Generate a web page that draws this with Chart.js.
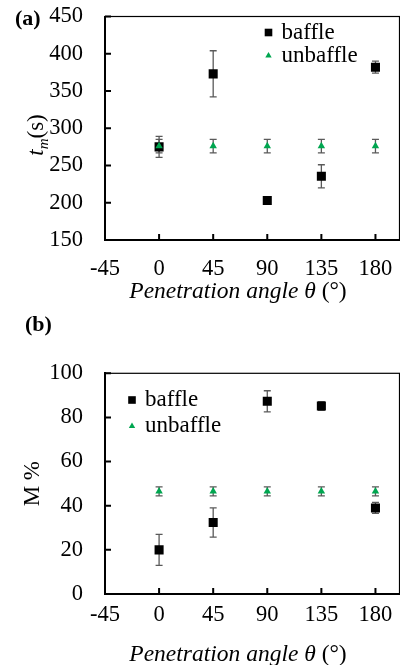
<!DOCTYPE html>
<html lang="en">
<head>
  <meta charset="UTF-8">
  <title>Penetration angle</title>
  <script src="https://cdn.jsdelivr.net/npm/chart.js"></script>
  <style>
    body {
      margin: 0;
      width: 400px;
      height: 665px;
      overflow: hidden;
      position: relative;
      background: #fff;
    }
    canvas { position: absolute; left: 0; }
    #chartA { top: 0; }
    #chartB { top: 310px; }
  </style>
</head>
<body>
  <canvas id="chartA" width="400" height="310"></canvas>
  <canvas id="chartB" width="400" height="365"></canvas>

  <script>
    const angles = [0, 45, 90, 135, 180];
    const angleTicks = [-45, 0, 45, 90, 135, 180];

    // (a) mixing time t_m (s)
    const baffleTm = [275, 373, 203, 235.5, 382];
    const baffleTmErr = [14, 31, 3, 15.5, 8];
    const unbaffleTm = [276, 276, 276, 276, 276];
    const unbaffleTmErr = [9, 9, 9, 9, 9];

    // (b) M %
    const baffleM = [20, 32.4, 87.3, 85.2, 39];
    const baffleMErr = [7, 6.6, 4.8, 2, 2.5];
    const unbaffleM = [46.5, 46.5, 46.5, 46.5, 46.5];
    const unbaffleMErr = [2, 2, 2, 2, 2];

    const SERIF = "'Liberation Serif', 'Times New Roman', serif";
    const GREEN = '#00a650';

    // error bars, drawn under the markers
    const errorBars = {
      id: 'errorBars',
      beforeDatasetsDraw(chart) {
        const ctx = chart.ctx;
        const yScale = chart.scales.y;
        ctx.save();
        ctx.strokeStyle = '#5a5a5a';
        ctx.lineWidth = 1.3;
        chart.data.datasets.forEach((ds, i) => {
          const meta = chart.getDatasetMeta(i);
          meta.data.forEach((pt, j) => {
            const v = ds.data[j].y;
            const e = ds.errorBars[j];
            const yt = yScale.getPixelForValue(v + e);
            const yb = yScale.getPixelForValue(v - e);
            ctx.beginPath();
            ctx.moveTo(pt.x, yt); ctx.lineTo(pt.x, yb);
            ctx.moveTo(pt.x - 3.5, yt); ctx.lineTo(pt.x + 3.5, yt);
            ctx.moveTo(pt.x - 3.5, yb); ctx.lineTo(pt.x + 3.5, yb);
            ctx.stroke();
          });
        });
        ctx.restore();
      }
    };

    // thin box round the plot area plus short inward tick marks
    const frame = {
      id: 'frame',
      beforeDatasetsDraw(chart) {
        const { ctx, chartArea: a, scales } = chart;
        ctx.save();
        ctx.strokeStyle = '#000';
        ctx.lineWidth = 1.2;
        ctx.strokeRect(a.left, a.top, a.right - a.left, a.bottom - a.top);
        ctx.lineWidth = 2;
        ctx.beginPath();
        scales.x.ticks.forEach(t => {
          const px = scales.x.getPixelForValue(t.value);
          ctx.moveTo(px, a.bottom);
          ctx.lineTo(px, a.bottom - 6);
        });
        scales.y.ticks.forEach(t => {
          const py = scales.y.getPixelForValue(t.value);
          ctx.moveTo(a.left, py);
          ctx.lineTo(a.left + 6, py);
        });
        ctx.stroke();
        ctx.restore();
      }
    };

    // panel tag, legend inside the plot, and the axis titles with mixed styles
    const panelText = {
      id: 'panelText',
      afterDraw(chart, args, opts) {
        const ctx = chart.ctx;
        ctx.save();
        ctx.fillStyle = '#000';
        ctx.textAlign = 'left';
        ctx.textBaseline = 'alphabetic';
        ctx.font = 'bold 22px ' + SERIF;
        ctx.fillText(opts.tag, opts.tagX, opts.tagY);

        ctx.font = '23px ' + SERIF;
        chart.data.datasets.forEach((ds, i) => {
          const cx = opts.legendX;
          const cy = opts.legendY + i * opts.legendGap;
          ctx.fillStyle = ds.backgroundColor;
          if (ds.pointStyle === 'rect') {
            ctx.fillRect(cx - 3.8, cy - 3.8, 7.6, 7.6);
          } else {
            ctx.beginPath();
            ctx.moveTo(cx, cy - 3.6);
            ctx.lineTo(cx + 3.2, cy + 2);
            ctx.lineTo(cx - 3.2, cy + 2);
            ctx.closePath();
            ctx.fill();
          }
          ctx.fillStyle = '#000';
          ctx.fillText(ds.label, cx + 13, cy + 6);
        });

        // x title: italic words, upright (°)
        const xt = opts.xTitle;
        ctx.textBaseline = 'middle';
        ctx.font = 'italic 23.5px ' + SERIF;
        const wa = ctx.measureText('Penetration angle θ ').width;
        ctx.font = '23.5px ' + SERIF;
        const wb = ctx.measureText('(°)').width;
        let x0 = xt.x - (wa + wb) / 2;
        ctx.font = 'italic 23.5px ' + SERIF;
        ctx.fillText('Penetration angle θ ', x0, xt.y);
        ctx.font = '23.5px ' + SERIF;
        ctx.fillText('(°)', x0 + wa, xt.y);
        ctx.textBaseline = 'alphabetic';

        if (opts.yTitle) {
          const t = opts.yTitle;
          ctx.translate(t.x, t.y);
          ctx.rotate(-Math.PI / 2);
          ctx.font = 'italic 23px ' + SERIF;
          const w1 = ctx.measureText('t').width;
          ctx.font = 'italic 15px ' + SERIF;
          const w2 = ctx.measureText('m').width;
          ctx.font = '23px ' + SERIF;
          const w3 = ctx.measureText('(s)').width;
          let x = -(w1 + w2 + w3) / 2;
          ctx.font = 'italic 23px ' + SERIF;
          ctx.fillText('t', x, 0);
          x += w1;
          ctx.font = 'italic 15px ' + SERIF;
          ctx.fillText('m', x, 5);
          x += w2;
          ctx.font = '23px ' + SERIF;
          ctx.fillText('(s)', x, 0);
        }
        ctx.restore();
      }
    };

    function points(ys) {
      return angles.map((a, i) => ({ x: a, y: ys[i] }));
    }

    function noPad(s) {
      s.paddingTop = 0;
      s.paddingBottom = 0;
      s.paddingLeft = 0;
      s.paddingRight = 0;
    }

    function makeChart(id, c) {
      return new Chart(document.getElementById(id), {
        type: 'scatter',
        data: {
          datasets: [{
            label: 'baffle',
            data: points(c.baffle),
            errorBars: c.baffleErr,
            pointStyle: 'rect',
            pointRadius: 6.4,
            backgroundColor: '#000',
            borderColor: '#000',
            pointBorderWidth: 0,
            order: 1
          }, {
            label: 'unbaffle',
            data: points(c.unbaffle),
            errorBars: c.unbaffleErr,
            pointStyle: 'triangle',
            pointRadius: 4.3,
            backgroundColor: GREEN,
            borderColor: GREEN,
            pointBorderWidth: 0,
            order: 0
          }]
        },
        options: {
          responsive: false,
          animation: false,
          events: [],
          layout: { autoPadding: false, padding: { top: c.top, right: 0.5, bottom: 0, left: 0 } },
          plugins: {
            legend: { display: false },
            tooltip: { enabled: false },
            panelText: c.text
          },
          scales: {
            x: {
              type: 'linear',
              min: -45,
              max: 200,
              afterBuildTicks: s => { s.ticks = angleTicks.map(v => ({ value: v })); },
              afterFit: s => { s.height = c.xHeight; noPad(s); },
              grid: { drawOnChartArea: false, drawTicks: false },
              border: { display: true, width: 2, color: '#000' },
              ticks: { font: { family: SERIF, size: 22.5 }, color: '#000', padding: c.xTickPad, maxRotation: 0, autoSkip: false }
            },
            y: {
              min: c.yMin,
              max: c.yMax,
              afterFit: s => { s.width = 105; noPad(s); },
              grid: { drawOnChartArea: false, drawTicks: false },
              border: { display: true, width: 2, color: '#000' },
              ticks: { stepSize: c.yStep, font: { family: SERIF, size: 22.5 }, color: '#000', padding: 22 },
              title: {
                display: !!c.yTitle,
                text: c.yTitle || '',
                font: { family: SERIF, size: 23 },
                color: '#000',
                padding: { top: 19.5, bottom: 0 }
              }
            }
          }
        },
        plugins: [frame, errorBars, panelText]
      });
    }

    makeChart('chartA', {
      baffle: baffleTm, baffleErr: baffleTmErr,
      unbaffle: unbaffleTm, unbaffleErr: unbaffleTmErr,
      yMin: 150, yMax: 450, yStep: 50,
      top: 16.5, xHeight: 70, xTickPad: 15.2,
      text: {
        tag: '(a)', tagX: 15, tagY: 24.5,
        legendX: 268.5, legendY: 32.5, legendGap: 23,
        xTitle: { x: 238, y: 292 },
        yTitle: { x: 43, y: 135 }
      }
    });

    makeChart('chartB', {
      baffle: baffleM, baffleErr: baffleMErr,
      unbaffle: unbaffleM, unbaffleErr: unbaffleMErr,
      yMin: 0, yMax: 100, yStep: 20,
      yTitle: 'M %',
      top: 63.3, xHeight: 81, xTickPad: 7.2,
      text: {
        tag: '(b)', tagX: 25, tagY: 21,
        legendX: 132, legendY: 90, legendGap: 26,
        xTitle: { x: 238, y: 345 }
      }
    });
  </script>
</body>
</html>
